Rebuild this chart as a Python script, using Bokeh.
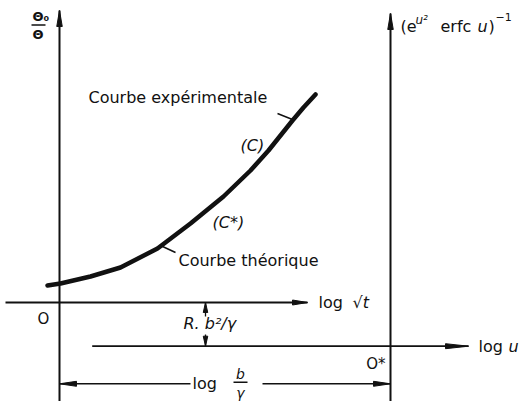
from bokeh.plotting import figure
from bokeh.models import Range1d
from bokeh.core.properties import value
from bokeh.embed import file_html
from bokeh.resources import INLINE

# ---------------- data (diagram units, origin O at (0, 0)) ----------------
# experimental / theoretical curve (C), (C*)
curve_x = [-1.2, 0.1, 3.1, 6.1, 9.8, 13.1, 16.4, 19.1, 20.9, 22.1, 23.3, 24.4, 25.6]
curve_y = [1.7, 1.9, 2.6, 3.5, 5.4, 7.9, 10.6, 13.2, 15.2, 16.7, 18.2, 19.5, 20.8]

# axes
left_axis_x = 0.0
left_axis_span = [-9.9, 29.2]
right_axis_x = 33.1          # O* abscissa
right_axis_span = [-9.9, 28.9]
t_axis_y = 0.0               # log sqrt(t)
t_axis_span = [-5.4, 24.8]
u_axis_y = -4.37             # log u
u_axis_span = [3.27, 40.9]

# dimension "log b/gamma"
dim_y = -8.13
dim_span = [0.0, 33.1]
dim_gap = [13.1, 20.3]

# dimension "R. b^2/gamma"
rb_x = 14.6
rb_gap = [-3.2, -1.4]

# leader ticks of the curve labels
tick_exp_x = [21.8, 23.3]
tick_exp_y = [18.9, 18.3]
tick_th_x = [10.1, 11.6]
tick_th_y = [5.7, 5.0]

# texts
curve_labels = ["Courbe expérimentale", "Courbe théorique"]
curve_labels_x = [2.9, 11.9]
curve_labels_y = [20.5, 4.2]
c_labels = ["(C)", "(C*)"]
c_labels_x = [18.1, 15.3]
c_labels_y = [15.7, 8.0]

INK = "#111111"
FONT = value("DejaVu Sans")


def head(tx, ty, dx, dy, length, width):
    bx, by = tx - dx * length, ty - dy * length
    px, py = -dy * width / 2, dx * width / 2
    return [tx, bx + px, bx - px], [ty, by + py, by - py]


p = figure(width=520, height=401,
           x_range=Range1d(-5.9, 46.1), y_range=Range1d(-9.9, 30.2),
           x_axis_type=None, y_axis_type=None,
           output_backend="svg", toolbar_location=None, min_border=0)
p.grid.visible = False
p.outline_line_color = None
p.background_fill_color = "white"
p.border_fill_color = "white"

# ---- axes lines ----
p.multi_line(
    xs=[[left_axis_x, left_axis_x], [right_axis_x, right_axis_x], t_axis_span],
    ys=[left_axis_span, right_axis_span, [t_axis_y, t_axis_y]],
    line_color=INK, line_width=2)
p.line(u_axis_span, [u_axis_y, u_axis_y], line_color=INK, line_width=1.8)

# dimension line log b/gamma (with gap for the label)
p.multi_line(xs=[[dim_span[0], dim_gap[0]], [dim_gap[1], dim_span[1]]],
             ys=[[dim_y, dim_y], [dim_y, dim_y]], line_color=INK, line_width=1.5)
# dimension line R b^2/gamma
p.multi_line(xs=[[rb_x, rb_x], [rb_x, rb_x]],
             ys=[[t_axis_y, rb_gap[1]], [rb_gap[0], u_axis_y]],
             line_color=INK, line_width=1.3)

# arrow heads
heads = [
    head(left_axis_x, left_axis_span[1], 0, 1, 1.6, 0.55),
    head(right_axis_x, right_axis_span[1], 0, 1, 1.6, 0.55),
    head(t_axis_span[1], t_axis_y, 1, 0, 1.5, 0.5),
    head(u_axis_span[1], u_axis_y, 1, 0, 2.3, 0.5),
    head(dim_span[0], dim_y, -1, 0, 1.7, 0.5),
    head(dim_span[1], dim_y, 1, 0, 1.7, 0.5),
    head(rb_x, t_axis_y, 0, 1, 1.0, 0.45),
    head(rb_x, u_axis_y, 0, -1, 1.0, 0.45),
]
p.patches(xs=[h[0] for h in heads], ys=[h[1] for h in heads],
          fill_color=INK, line_color=INK, line_width=1)

# ---- curve ----
p.line(curve_x, curve_y, line_color=INK, line_width=4.5, line_cap="round", line_join="round")
p.multi_line(xs=[tick_exp_x, tick_th_x], ys=[tick_exp_y, tick_th_y], line_color=INK, line_width=1.5)

# ---- texts ----
p.text(curve_labels_x, curve_labels_y, text=curve_labels, text_font=FONT,
       text_font_size="16px", text_color=INK, text_baseline="middle", text_align="left")
p.text(c_labels_x, c_labels_y, text=c_labels, text_font=FONT, text_font_style="italic",
       text_font_size="16px", text_color=INK, text_baseline="middle", text_align="left")

# origins
p.text([-1.6], [-1.6], text=["O"], text_font=FONT, text_font_size="15px",
       text_color=INK, text_baseline="middle", text_align="center")
p.text([32.6], [-6.1], text=["O*"], text_font=FONT, text_font_size="15px",
       text_color=INK, text_baseline="middle", text_align="right")

# axis names on the right of horizontal axes
p.text([25.9, 41.9], [t_axis_y, u_axis_y], text=["log", "log"], text_font=FONT,
       text_font_size="16px", text_color=INK, text_baseline="middle", text_align="left")
p.text([29.3], [t_axis_y], text=["√t"], text_font=FONT, text_font_style="italic",
       text_font_size="16px", text_color=INK, text_baseline="middle", text_align="left")
p.text([44.9], [u_axis_y], text=["u"], text_font=FONT, text_font_style="italic",
       text_font_size="16px", text_color=INK, text_baseline="middle", text_align="left")

# R. b^2/gamma
p.text([12.4], [-2.1], text=["R. b²/γ"], text_font=FONT, text_font_style="italic",
       text_font_size="16px", text_color=INK, text_baseline="middle", text_align="left")

# log b/gamma
p.text([13.3], [dim_y], text=["log"], text_font=FONT, text_font_size="16px",
       text_color=INK, text_baseline="middle", text_align="left")
p.text([18.1, 18.1], [-7.1, -9.0], text=["b", "γ"], text_font=FONT, text_font_style="italic",
       text_font_size="14px", text_color=INK, text_baseline="middle", text_align="center")
p.line([17.4, 18.8], [-7.97, -7.97], line_color=INK, line_width=1.5)

# left axis label Theta0 / Theta
p.text([-2.7, -2.7], [28.6, 26.8], text=["Θ₀", "Θ"], text_font=FONT, text_font_style="bold",
       text_font_size="13px", text_color=INK, text_baseline="middle", text_align="left")
p.line([-2.8, -1.4], [27.75, 27.75], line_color=INK, line_width=1.5)

# right axis label (e^{u^2} erfc u)^{-1}
p.text([34.1, 38.1, 42.9], [27.6, 27.6, 27.6], text=["(e", "erfc", ")"], text_font=FONT,
       text_font_size="16px", text_color=INK, text_baseline="middle", text_align="left")
p.text([41.8], [27.6], text=["u"], text_font=FONT, text_font_style="italic",
       text_font_size="16px", text_color=INK, text_baseline="middle", text_align="left")
p.text([35.6], [28.3], text=["u²"], text_font=FONT, text_font_style="italic",
       text_font_size="12px", text_color=INK, text_baseline="middle", text_align="left")
p.text([43.6], [28.6], text=["−1"], text_font=FONT,
       text_font_size="11px", text_color=INK, text_baseline="middle", text_align="left")

open("out.html", "w").write(file_html(p, INLINE))
